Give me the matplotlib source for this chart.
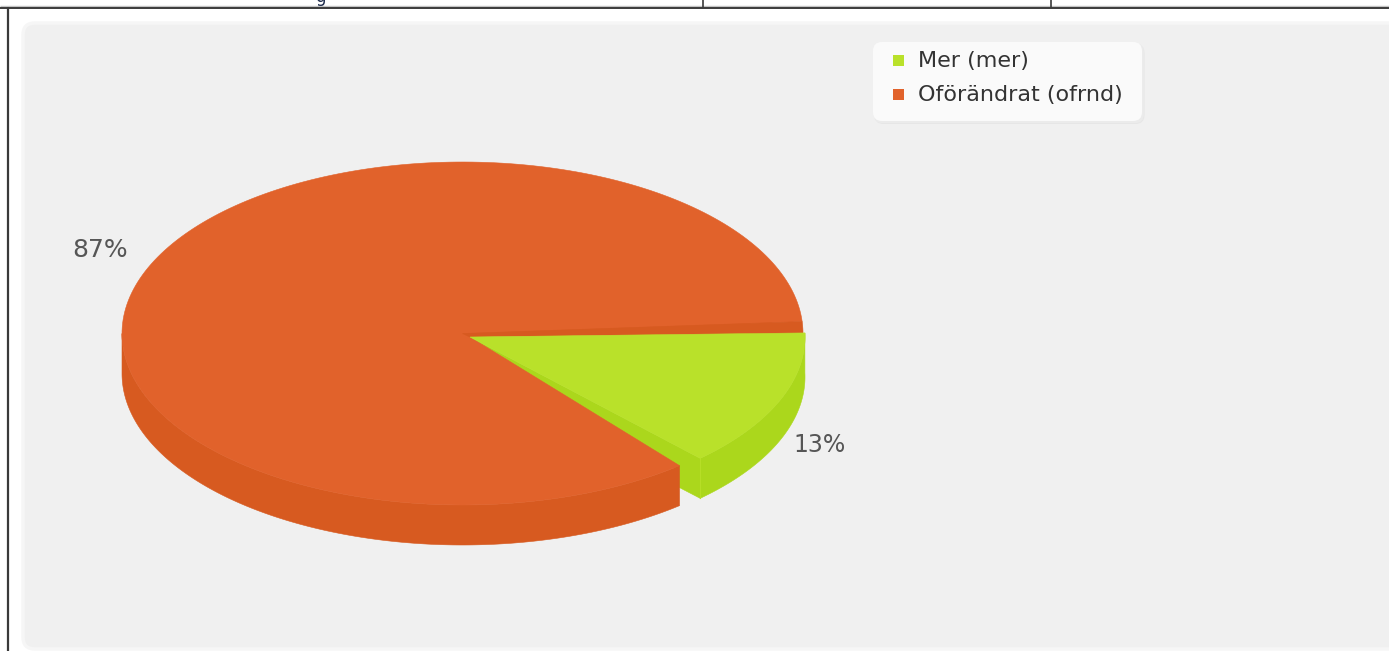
import numpy as np
import matplotlib
matplotlib.use("Agg")
import matplotlib.pyplot as plt
from matplotlib.patches import Polygon, FancyBboxPatch, Rectangle

categories = ["Mer (mer)", "Oförändrat (ofrnd)"]
values = [13, 87]
value_labels = ["13%", "87%"]

TOP = {"Mer (mer)": "#B9E12A", "Oförändrat (ofrnd)": "#E1622B"}
SIDE = {"Mer (mer)": "#ABD71C", "Oförändrat (ofrnd)": "#D75A20"}

W, H = 1389, 651
fig = plt.figure(figsize=(W / 100, H / 100), dpi=100, facecolor="white")
ax = fig.add_axes([0, 0, 1, 1])
ax.set_xlim(0, W)
ax.set_ylim(H, 0)
ax.axis("off")

# page frame behind the chart
ax.plot([0, W], [5.5, 5.5], color="#C4C4C4", lw=1.0, zorder=1, solid_capstyle="butt")
ax.plot([0, W], [7.5, 7.5], color="#3A3A3A", lw=1.4, zorder=1, solid_capstyle="butt")
ax.plot([8, 8], [7, H], color="#3A3A3A", lw=1.6, zorder=1, solid_capstyle="butt")
for x in (703, 1051):
    ax.plot([x, x], [0, 7], color="#3A3A3A", lw=1.2, zorder=1)
ax.text(320, -3.5, "g", fontsize=12, color="#1F2D4D", ha="center", va="center", zorder=1)

# chart panel
ax.add_patch(FancyBboxPatch((23, 23), W + 40, 626,
                            boxstyle="round,pad=0,rounding_size=12",
                            fc="#F0F0F0", ec="#F6F6F6", lw=2.5, zorder=2))


def arc(cx, cy, rx, ry, a0, a1, n=240):
    t = np.radians(np.linspace(a0, a1, n))
    return np.column_stack([cx + rx * np.cos(t), cy + ry * np.sin(t)])


def poly(pts, color, z):
    ax.add_patch(Polygon(pts, closed=True, fc=color, ec=color, lw=0.4, zorder=z))


depth = 40
green, orange = categories
sweep = np.cumsum([0] + [v / sum(values) * 360 for v in values])

# green apex sits slightly off the orange centre
gcx, gcy, grx, gry = 470, 337, 335, 167

# orange slice (centre, radii and small angular gaps reproduce the drawn offset)
ocx, ocy, orx, ory = 462.5, 333.5, 340.5, 171.5
o0, o1 = sweep[1] + 3.6, sweep[2] - 4.0
rim = arc(ocx, ocy, orx, ory, o0, 180)
poly(np.vstack([rim, rim[::-1] + [0, depth]]), SIDE[orange], 5)
poly(np.vstack([[[gcx, gcy]], arc(ocx, ocy, orx, ory, o0, o1)]), TOP[orange], 8)
poly(np.vstack([[[ocx, ocy]], arc(ocx, ocy, orx, ory, o1, sweep[2]), [[gcx, gcy]]]), SIDE[orange], 9)

# green slice
g0, g1 = sweep[0] - 1.4, sweep[1] - 0.2
rim = arc(gcx, gcy, grx, gry, g0, g1)
corner = rim[-1]
poly(np.vstack([rim, rim[::-1] + [0, depth]]), SIDE[green], 4)
poly([[gcx, gcy], corner, corner + [0, depth], corner + [-25, depth - 13], corner + [-25, 10]], SIDE[green], 4)
poly(np.vstack([[[gcx, gcy]], rim]), TOP[green], 10)
ax.plot([corner[0]] * 2, [corner[1], corner[1] + depth], color="#B6DE27", lw=0.8, zorder=6)

# value labels
label_color = "#565656"
ax.text(820, 445, value_labels[0], fontsize=17, color=label_color, ha="center", va="center", zorder=11)
ax.text(100, 250, value_labels[1], fontsize=18, color=label_color, ha="center", va="center", zorder=11)

# legend
for off, col in ((5, "#E6E6E6"), (3, "#EBEBEB")):
    ax.add_patch(FancyBboxPatch((873 + off * .3, 42 + off * .4), 270, 80,
                                boxstyle="round,pad=0,rounding_size=9", fc=col, ec="none", zorder=3))
ax.add_patch(FancyBboxPatch((873, 42), 269, 79, boxstyle="round,pad=0,rounding_size=9",
                            fc="#FAFAFA", ec="none", zorder=4))
for y, name in zip((60.5, 94.5), categories):
    ax.add_patch(Rectangle((893, y - 5.5), 11, 11, fc=TOP[name], ec="none", zorder=5))
    ax.text(918, y, name, fontsize=16, color="#333333", ha="left", va="center", zorder=5)

fig.savefig("out.png", dpi=100, facecolor="white")
